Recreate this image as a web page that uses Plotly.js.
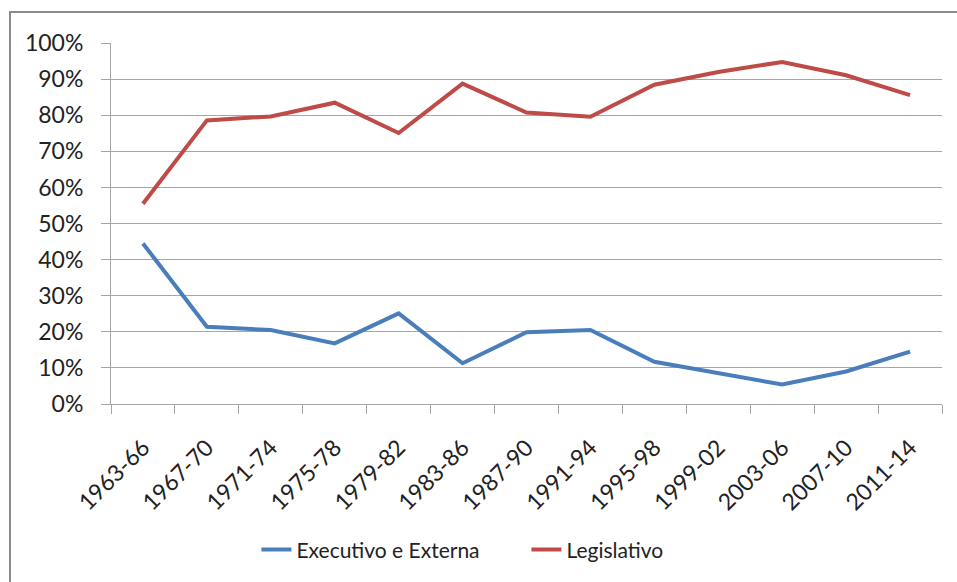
<!DOCTYPE html>
<html>
<head>
<meta charset="utf-8">
<script src="https://cdn.plot.ly/plotly-3.0.1.min.js"></script>
<style>
  html, body { margin: 0; padding: 0; background: #fff; }
  #frame { position: absolute; left: 9px; top: 11px; width: 960px; height: 580px;
           border-left: 2px solid #8c8c8c; border-top: 2px solid #8c8c8c; }
  #chart { position: absolute; left: 0; top: 0; width: 957px; height: 582px; }
</style>
</head>
<body>
<div id="frame"></div>
<div id="chart"></div>
<script>
const categories = ["1963-66","1967-70","1971-74","1975-78","1979-82","1983-86","1987-90","1991-94","1995-98","1999-02","2003-06","2007-10","2011-14"];
const executivoExterna = [0.445, 0.214, 0.205, 0.168, 0.251, 0.113, 0.199, 0.205, 0.117, 0.085, 0.054, 0.090, 0.145];
const legislativo = [0.555, 0.786, 0.797, 0.835, 0.751, 0.888, 0.808, 0.796, 0.885, 0.920, 0.948, 0.911, 0.856];
const seriesNames = ["Executivo e Externa", "Legislativo"];

const fontFam = "Lato, 'Open Sans', sans-serif";

const traces = [
  { x: categories, y: executivoExterna, name: seriesNames[0], type: "scatter", mode: "lines",
    line: { color: "#4a7ebb", width: 4 } },
  { x: categories, y: legislativo, name: seriesNames[1], type: "scatter", mode: "lines",
    line: { color: "#be4b48", width: 4 } }
];

const layout = {
  width: 957, height: 582,
  margin: { l: 111, r: 15, t: 43, b: 178 },
  paper_bgcolor: "rgba(0,0,0,0)",
  plot_bgcolor: "rgba(0,0,0,0)",
  showlegend: true,
  font: { family: fontFam, size: 20, color: "#222" },
  xaxis: {
    type: "category",
    showgrid: false,
    showline: true, linecolor: "#a6a6a6", linewidth: 1,
    ticks: "outside", tickson: "boundaries", ticklen: 9, tickcolor: "#a6a6a6",
    tickangle: -45,
    tickfont: { family: fontFam, size: 23, color: "#222" },
    ticklabelstandoff: 20,
    range: [-0.5, 12.5],
    fixedrange: true
  },
  yaxis: {
    range: [0, 1.0005],
    tickvals: [0, 0.1, 0.2, 0.3, 0.4, 0.5, 0.6, 0.7, 0.8, 0.9, 1.0],
    tickformat: ".0%",
    showgrid: true, gridcolor: "#a6a6a6", gridwidth: 1,
    showline: true, linecolor: "#a6a6a6", linewidth: 1,
    ticks: "outside", ticklen: 9, tickcolor: "#a6a6a6",
    tickfont: { family: fontFam, size: 23, color: "#222" },
    ticklabelstandoff: 13,
    zeroline: false,
    fixedrange: true
  },
  legend: {
    orientation: "h",
    x: 0.175, xanchor: "left",
    y: -0.404, yanchor: "middle",
    font: { family: fontFam, size: 21, color: "#222" },
    entrywidth: 225,
    bgcolor: "rgba(0,0,0,0)"
  }
};

Plotly.newPlot("chart", traces, layout, { displayModeBar: false, staticPlot: true });
</script>
</body>
</html>
